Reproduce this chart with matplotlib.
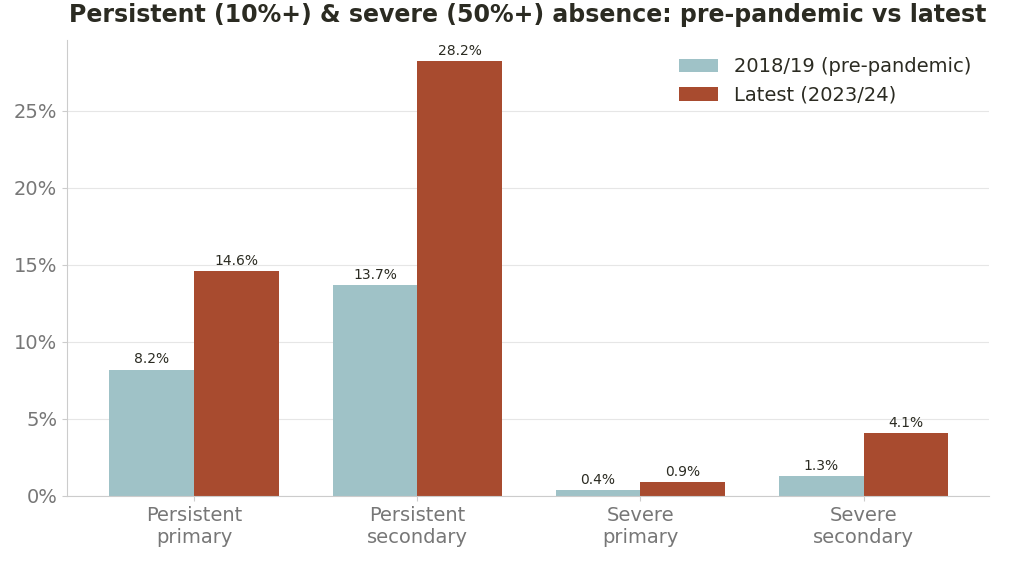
import matplotlib.pyplot as plt
import numpy as np

categories = ['Persistent\nprimary', 'Persistent\nsecondary', 'Severe\nprimary', 'Severe\nsecondary']
pre_pandemic = [8.2, 13.7, 0.4, 1.3]
latest = [14.6, 28.2, 0.9, 4.1]
series_names = ['2018/19 (pre-pandemic)', 'Latest (2023/24)']

fig = plt.figure(figsize=(10.24, 5.68), dpi=100)
ax = fig.add_axes([0.0654, 0.127, 0.9, 0.803])
x = np.arange(len(categories))
w = 0.38
b1 = ax.bar(x - w / 2, pre_pandemic, w, color='#9fc2c7', label=series_names[0])
b2 = ax.bar(x + w / 2, latest, w, color='#a84b2f', label=series_names[1])
for bars in (b1, b2):
    for r in bars:
        ax.text(r.get_x() + r.get_width() / 2, r.get_height() + 0.2, f'{r.get_height():.1f}%',
                ha='center', va='bottom', fontsize=10, color='#2b2b22')

ax.set_xlim(-0.57, 3.56)
ax.set_ylim(0, 29.6)
ax.set_yticks([0, 5, 10, 15, 20, 25])
ax.set_yticklabels([f'{v}%' for v in [0, 5, 10, 15, 20, 25]])
ax.set_xticks(x)
ax.set_xticklabels(categories)
ax.tick_params(axis='both', labelsize=14, labelcolor='#777777', color='#cccccc')
ax.grid(axis='y', color='#e6e6e6', linewidth=0.8)
ax.set_axisbelow(True)
for s in ['top', 'right']:
    ax.spines[s].set_visible(False)
for s in ['left', 'bottom']:
    ax.spines[s].set_color('#cccccc')
ax.legend(loc='upper right', frameon=False, fontsize=14, labelcolor='#2b2b22')
fig.suptitle('Persistent (10%+) & severe (50%+) absence: pre-pandemic vs latest',
             fontsize=17, fontweight='bold', color='#2b2b22', x=0.515, y=0.995)
fig.savefig('out.png', dpi=100)
